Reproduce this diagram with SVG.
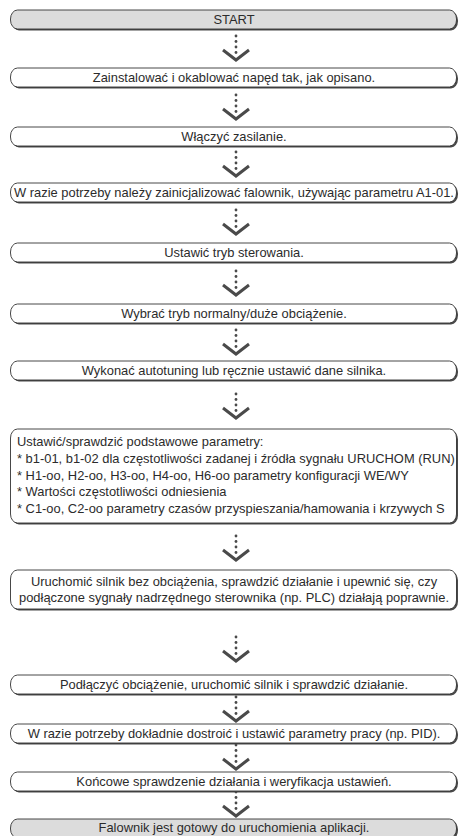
<svg xmlns="http://www.w3.org/2000/svg" width="460" height="836" viewBox="0 0 460 836">
<defs>
<style>
.sh{fill:#4a4a4a}
.bx{fill:#ffffff;stroke:#333333;stroke-width:0.9}
.gr{fill:#dcdcdc}
.t{font-family:"Liberation Sans",Arial,sans-serif;font-size:12.9px;fill:#2b2b2b;text-anchor:middle}
.tl{text-anchor:start}
.dot{fill:#4a4a4a}
.chev{fill:none;stroke:#4a4a4a;stroke-width:3;stroke-linecap:butt;stroke-linejoin:miter}
</style>
<g id="arrow">
<circle class="dot" cx="0" cy="-25" r="1.4"/>
<circle class="dot" cx="0" cy="-19.5" r="1.4"/>
<circle class="dot" cx="0" cy="-14" r="1.4"/>
<circle class="dot" cx="0" cy="-8.5" r="1.4"/>
<polyline class="chev" points="-13,-11 0,-1 13,-11"/>
</g>
</defs>
<g id="connectors">
<use href="#arrow" x="236" y="61"/>
<use href="#arrow" x="236" y="120"/>
<use href="#arrow" x="236" y="177"/>
<use href="#arrow" x="236" y="235"/>
<use href="#arrow" x="236" y="296"/>
<use href="#arrow" x="236" y="355"/>
<use href="#arrow" x="236" y="419"/>
<use href="#arrow" x="236" y="561"/>
<use href="#arrow" x="236" y="662"/>
<use href="#arrow" x="236" y="722"/>
<use href="#arrow" x="236" y="770"/>
<use href="#arrow" x="236" y="817"/>
</g>
<g id="n1">
<rect class="sh" x="12" y="11.5" width="446" height="19" rx="7" ry="9"/>
<rect class="bx gr" x="10.5" y="10" width="446" height="19" rx="7" ry="9"/>
<text class="t" x="234" y="24">START</text>
</g>
<g id="n2">
<rect class="sh" x="12" y="69.5" width="446" height="19" rx="7" ry="9"/>
<rect class="bx" x="10.5" y="68" width="446" height="19" rx="7" ry="9"/>
<text class="t" x="234" y="82">Zainstalować i okablować napęd tak, jak opisano.</text>
</g>
<g id="n3">
<rect class="sh" x="12" y="128.5" width="446" height="19" rx="7" ry="9"/>
<rect class="bx" x="10.5" y="127" width="446" height="19" rx="7" ry="9"/>
<text class="t" x="234" y="141">Włączyć zasilanie.</text>
</g>
<g id="n4">
<rect class="sh" x="12" y="184.5" width="446" height="19" rx="7" ry="9"/>
<rect class="bx" x="10.5" y="183" width="446" height="19" rx="7" ry="9"/>
<text class="t" x="234" y="197">W razie potrzeby należy zainicjalizować falownik, używając parametru A1-01.</text>
</g>
<g id="n5">
<rect class="sh" x="12" y="244.5" width="446" height="19" rx="7" ry="9"/>
<rect class="bx" x="10.5" y="243" width="446" height="19" rx="7" ry="9"/>
<text class="t" x="234" y="257">Ustawić tryb sterowania.</text>
</g>
<g id="n6">
<rect class="sh" x="12" y="305.5" width="446" height="19" rx="7" ry="9"/>
<rect class="bx" x="10.5" y="304" width="446" height="19" rx="7" ry="9"/>
<text class="t" x="234" y="318">Wybrać tryb normalny/duże obciążenie.</text>
</g>
<g id="n7">
<rect class="sh" x="12" y="362.5" width="446" height="19" rx="7" ry="9"/>
<rect class="bx" x="10.5" y="361" width="446" height="19" rx="7" ry="9"/>
<text class="t" x="234" y="375">Wykonać autotuning lub ręcznie ustawić dane silnika.</text>
</g>
<g id="n8">
<rect class="sh" x="12" y="430.5" width="446" height="94" rx="7" ry="9"/>
<rect class="bx" x="10.5" y="429" width="446" height="94" rx="7" ry="9"/>
<text class="t tl" x="17" y="446">Ustawić/sprawdzić podstawowe parametry:</text>
<text class="t tl" x="17" y="463">* b1-01, b1-02 dla częstotliwości zadanej i źródła sygnału URUCHOM (RUN)</text>
<text class="t tl" x="17" y="479.5">* H1-oo, H2-oo, H3-oo, H4-oo, H6-oo parametry konfiguracji WE/WY</text>
<text class="t tl" x="17" y="496">* Wartości częstotliwości odniesienia</text>
<text class="t tl" x="17" y="512.5">* C1-oo, C2-oo parametry czasów przyspieszania/hamowania i krzywych S</text>
</g>
<g id="n9">
<rect class="sh" x="12" y="571.5" width="446" height="39" rx="7" ry="9"/>
<rect class="bx" x="10.5" y="570" width="446" height="39" rx="7" ry="9"/>
<text class="t" x="234" y="586">Uruchomić silnik bez obciążenia, sprawdzić działanie i upewnić się, czy</text>
<text class="t" x="234" y="602">podłączone sygnały nadrzędnego sterownika (np. PLC) działają poprawnie.</text>
</g>
<g id="n10">
<rect class="sh" x="12" y="676.5" width="446" height="19" rx="7" ry="9"/>
<rect class="bx" x="10.5" y="675" width="446" height="19" rx="7" ry="9"/>
<text class="t" x="234" y="689">Podłączyć obciążenie, uruchomić silnik i sprawdzić działanie.</text>
</g>
<g id="n11">
<rect class="sh" x="12" y="725.5" width="446" height="19" rx="7" ry="9"/>
<rect class="bx" x="10.5" y="724" width="446" height="19" rx="7" ry="9"/>
<text class="t" x="234" y="738">W razie potrzeby dokładnie dostroić i ustawić parametry pracy (np. PID).</text>
</g>
<g id="n12">
<rect class="sh" x="12" y="773.5" width="446" height="19" rx="7" ry="9"/>
<rect class="bx" x="10.5" y="772" width="446" height="19" rx="7" ry="9"/>
<text class="t" x="234" y="786">Końcowe sprawdzenie działania i weryfikacja ustawień.</text>
</g>
<g id="n13">
<rect class="sh" x="12" y="820.5" width="446" height="19" rx="7" ry="9"/>
<rect class="bx gr" x="10.5" y="819" width="446" height="19" rx="7" ry="9"/>
<text class="t" x="234" y="832">Falownik jest gotowy do uruchomienia aplikacji.</text>
</g>
</svg>
